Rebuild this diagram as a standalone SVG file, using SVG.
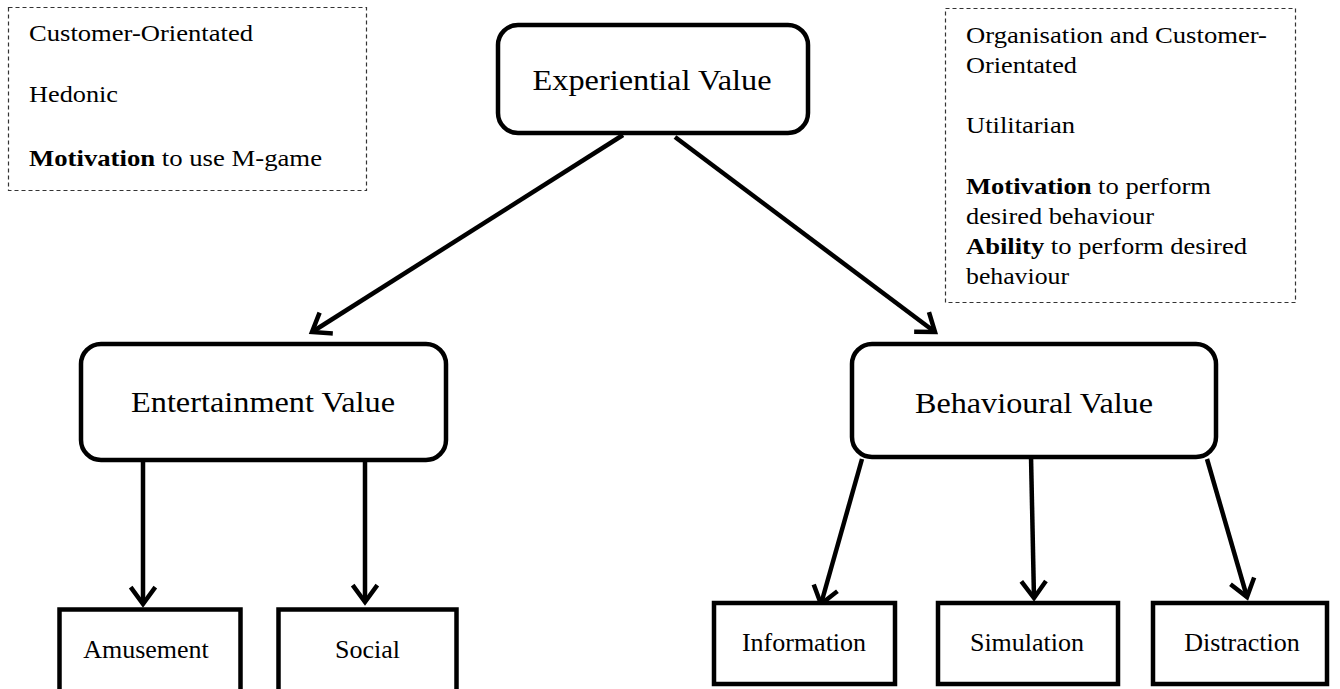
<svg xmlns="http://www.w3.org/2000/svg" width="1340" height="689" viewBox="0 0 1340 689">
<defs>
<style>
.bg{fill:#fff}
.note{fill:none;stroke:#333;stroke-width:1.2;stroke-dasharray:4 3}
.node{fill:#fff;stroke:#000;stroke-width:4.5}
.lbl{font-family:"Liberation Serif","Times New Roman",serif;fill:#000}
.big{font-size:30px;text-anchor:middle}
.small{font-size:26px;text-anchor:middle}
.ann{font-size:24px}
.b{font-weight:bold}
.conn{stroke:#000;stroke-width:4.5;fill:none;marker-end:url(#arr)}
</style>
<marker id="arr" markerUnits="userSpaceOnUse" orient="auto" refX="0" refY="0" markerWidth="40" markerHeight="40" overflow="visible">
<path d="M-15,-11 L0,0 L-15,11" fill="none" stroke="#000" stroke-width="4.5" stroke-linejoin="miter" stroke-linecap="square"/>
</marker>
</defs>
<rect class="bg" x="0" y="0" width="1340" height="689"/>

<g id="note-left">
<rect class="note" x="8.5" y="7.5" width="358" height="183"/>
<text class="lbl ann" x="29" y="41" textLength="224" lengthAdjust="spacingAndGlyphs">Customer-Orientated</text>
<text class="lbl ann" x="29" y="102" textLength="89" lengthAdjust="spacingAndGlyphs">Hedonic</text>
<text class="lbl ann" x="29" y="166" textLength="293" lengthAdjust="spacingAndGlyphs"><tspan class="b">Motivation</tspan> to use M-game</text>
</g>

<g id="note-right">
<rect class="note" x="945.5" y="8.5" width="350" height="294"/>
<text class="lbl ann" x="966" y="43" textLength="301" lengthAdjust="spacingAndGlyphs">Organisation and Customer-</text>
<text class="lbl ann" x="966" y="73" textLength="111" lengthAdjust="spacingAndGlyphs">Orientated</text>
<text class="lbl ann" x="966" y="133" textLength="109" lengthAdjust="spacingAndGlyphs">Utilitarian</text>
<text class="lbl ann" x="966" y="194" textLength="245" lengthAdjust="spacingAndGlyphs"><tspan class="b">Motivation</tspan> to perform</text>
<text class="lbl ann" x="966" y="224" textLength="188" lengthAdjust="spacingAndGlyphs">desired behaviour</text>
<text class="lbl ann" x="966" y="254" textLength="281" lengthAdjust="spacingAndGlyphs"><tspan class="b">Ability</tspan> to perform desired</text>
<text class="lbl ann" x="966" y="284" textLength="103" lengthAdjust="spacingAndGlyphs">behaviour</text>
</g>

<g id="connectors">
<line class="conn" x1="623" y1="135" x2="312" y2="332"/>
<line class="conn" x1="675" y1="137" x2="935" y2="332"/>
<line class="conn" x1="143" y1="462" x2="143" y2="604"/>
<line class="conn" x1="365" y1="462" x2="365" y2="602"/>
<line class="conn" x1="862" y1="459" x2="821" y2="604"/>
<line class="conn" x1="1031" y1="456" x2="1034" y2="598"/>
<line class="conn" x1="1207" y1="459" x2="1247" y2="597"/>
</g>

<g id="experiential">
<rect class="node" x="498" y="25" width="310" height="108" rx="20"/>
<text class="lbl big" x="652" y="90" textLength="239" lengthAdjust="spacingAndGlyphs">Experiential Value</text>
</g>

<g id="entertainment">
<rect class="node" x="81" y="344" width="365" height="116" rx="20"/>
<text class="lbl big" x="263" y="412" textLength="264" lengthAdjust="spacingAndGlyphs">Entertainment Value</text>
</g>

<g id="behavioural">
<rect class="node" x="852" y="344" width="364" height="113" rx="20"/>
<text class="lbl big" x="1034" y="413" textLength="238" lengthAdjust="spacingAndGlyphs">Behavioural Value</text>
</g>

<g id="amusement">
<rect class="node" x="59.5" y="609.5" width="181" height="85"/>
<text class="lbl small" x="146" y="658">Amusement</text>
</g>

<g id="social">
<rect class="node" x="278.5" y="609.5" width="178" height="85"/>
<text class="lbl small" x="367.5" y="658">Social</text>
</g>

<g id="information">
<rect class="node" x="714" y="603" width="181" height="81"/>
<text class="lbl small" x="804" y="651">Information</text>
</g>

<g id="simulation">
<rect class="node" x="938" y="603" width="180" height="81"/>
<text class="lbl small" x="1027" y="651">Simulation</text>
</g>

<g id="distraction">
<rect class="node" x="1153" y="603" width="174" height="81"/>
<text class="lbl small" x="1242" y="651">Distraction</text>
</g>
</svg>
